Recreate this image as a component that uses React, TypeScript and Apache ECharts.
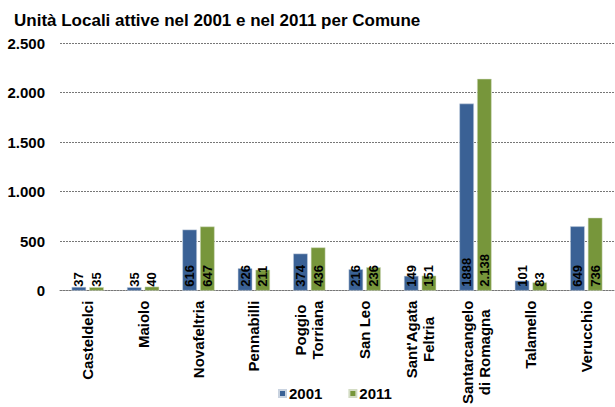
import React, { useEffect, useRef } from "react";
import * as echarts from "echarts";

const categories = [
  "Casteldelci",
  "Maiolo",
  "Novafeltria",
  "Pennabilli",
  "Poggio\nTorriana",
  "San Leo",
  "Sant'Agata\nFeltria",
  "Santarcangelo\ndi Romagna",
  "Talamello",
  "Verucchio",
];
const values2001 = [37, 35, 616, 226, 374, 216, 149, 1888, 101, 649];
const values2011 = [35, 40, 647, 211, 436, 236, 151, 2138, 83, 736];
const yTicks = { min: 0, max: 2500, interval: 500 };

const FONT = "'Liberation Sans', Arial, sans-serif";
const BLUE = "#3A6195";
const GREEN = "#77963B";

const fmtDot = (v: number) => String(v).replace(/\B(?=(\d{3})+(?!\d))/g, ".");

export default function App() {
  const ref = useRef<HTMLDivElement>(null);
  useEffect(() => {
    document.body.style.margin = "0";
    if (!ref.current) return;
    const chart = echarts.init(ref.current, undefined, { renderer: "svg" });
    const labelBase = {
      show: true,
      position: "insideBottom" as const,
      rotate: 90,
      align: "left" as const,
      verticalAlign: "middle" as const,
      distance: 4,
      color: "#000",
      fontFamily: FONT,
      fontSize: 13,
      fontWeight: "bold" as const,
    };
    chart.setOption({
      animation: false,
      textStyle: { fontFamily: FONT },
      title: {
        text: "Unità Locali attive nel 2001 e nel 2011 per Comune",
        left: 9,
        top: 7,
        textStyle: { fontFamily: FONT, fontSize: 17, fontWeight: "bold", color: "#000" },
      },
      grid: { left: 60, right: 1, top: 43, bottom: 114 },
      legend: {
        data: ["2001", "2011"],
        left: 273,
        top: 381,
        itemWidth: 7,
        itemHeight: 7,
        itemGap: 26,
        icon: "rect",
        textStyle: { fontFamily: FONT, fontSize: 15, fontWeight: "bold", color: "#000", padding: [0, 0, 0, -2] },
      },
      xAxis: {
        type: "category",
        data: categories,
        axisLine: { show: true, lineStyle: { color: "#777", type: [2, 1], width: 1 } },
        axisTick: { show: false },
        axisLabel: {
          interval: 0,
          rotate: 90,
          margin: 10,
          formatter: (v: string) =>
            v
              .split("\n")
              .map((s) => "{a|" + s + "}")
              .join("\n"),
          rich: {
            a: {
              fontFamily: FONT,
              fontSize: 15,
              fontWeight: "bold",
              color: "#000",
              lineHeight: 17,
              align: "center",
            },
          },
        },
      },
      yAxis: {
        type: "value",
        min: yTicks.min,
        max: yTicks.max,
        interval: yTicks.interval,
        axisLine: { show: false },
        axisTick: { show: false },
        axisLabel: {
          margin: 15,
          fontFamily: FONT,
          fontSize: 15,
          fontWeight: "bold",
          color: "#000",
          formatter: (v: number) => fmtDot(v),
        },
        splitLine: { show: true, lineStyle: { color: "#777", type: [2, 1], width: 1 } },
      },
      series: [
        {
          name: "2001",
          type: "bar",
          data: values2001,
          barWidth: 14.5,
          barGap: "22%",
          itemStyle: { color: BLUE, borderColor: "#c9d3e0", borderWidth: 0.5 },
          label: { ...labelBase, formatter: (p: any) => String(p.value) },
        },
        {
          name: "2011",
          type: "bar",
          data: values2011,
          barWidth: 14.5,
          itemStyle: { color: GREEN, borderColor: "#d3dcc4", borderWidth: 0.5 },
          label: { ...labelBase, formatter: (p: any) => fmtDot(p.value) },
        },
      ],
    });
    return () => chart.dispose();
  }, []);
  return <div ref={ref} style={{ width: 615, height: 407 }} />;
}
